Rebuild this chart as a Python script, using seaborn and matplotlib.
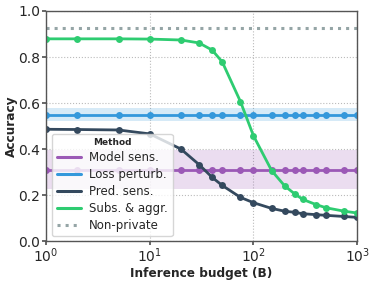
import numpy as np
import pandas as pd
import seaborn as sns
import matplotlib.pyplot as plt
from matplotlib.lines import Line2D

budget = [1, 2, 5, 10, 20, 30, 40, 50, 75, 100, 150, 200, 250, 300, 400, 500, 750, 1000]

model_sens = [0.31] * len(budget)
model_sens_lo, model_sens_hi = 0.225, 0.395
loss_perturb = [0.55] * len(budget)
loss_perturb_lo, loss_perturb_hi = 0.521, 0.578
pred_sens = [0.486, 0.485, 0.483, 0.466, 0.400, 0.332, 0.277, 0.242, 0.190, 0.167,
             0.142, 0.130, 0.125, 0.119, 0.115, 0.112, 0.107, 0.103]
subs_aggr = [0.879, 0.879, 0.879, 0.878, 0.874, 0.861, 0.830, 0.779, 0.606, 0.458,
             0.306, 0.240, 0.205, 0.181, 0.159, 0.145, 0.130, 0.122]
non_private = 0.925

methods = ["Model sens.", "Loss perturb.", "Pred. sens.", "Subs. & aggr."]
colors = ["#9b59b6", "#3498db", "#34495e", "#2ecc71"]
np_color = "#95a5a6"

rows = []
for m, vals in zip(methods, [model_sens, loss_perturb, pred_sens, subs_aggr]):
    for b, v in zip(budget, vals):
        rows.append({"budget": b, "acc": v, "Method": m})
df = pd.DataFrame(rows)

sns.set_theme(style="whitegrid")
plt.rcParams['font.family'] = ['DejaVu Sans']

fig = plt.figure(figsize=(3.74, 2.82), dpi=100)
ax = fig.add_axes([0.123, 0.145, 0.832, 0.816])

# shaded spread for the two flat methods
ax.fill_between([1, 1000], model_sens_lo, model_sens_hi, color=colors[0], alpha=0.2, lw=0)
ax.fill_between([1, 1000], loss_perturb_lo, loss_perturb_hi, color=colors[1], alpha=0.2, lw=0)

sns.lineplot(data=df, x="budget", y="acc", hue="Method", palette=colors,
             marker="o", markersize=5, markeredgewidth=0, linewidth=2,
             legend=False, ax=ax)
ax.axhline(non_private, color=np_color, ls=":", lw=2.2)

ax.set_xscale("log")
ax.set_xlim(1, 1000)
ax.set_ylim(0, 1.0)
ax.set_yticks([0, 0.2, 0.4, 0.6, 0.8, 1.0])
ax.grid(True, which="major", ls=":", color="#bbbbbb", lw=0.8)
ax.grid(False, which="minor")
for s in ax.spines.values():
    s.set_color("#555555")
    s.set_linewidth(1)
ax.tick_params(axis="both", which="major", labelsize=10, pad=1, length=3,
               color="#555555", bottom=True, left=True)
ax.tick_params(axis="x", which="minor", length=0)
ax.set_xlabel("Inference budget (B)", fontsize=8.7, fontweight="bold", labelpad=1)
ax.set_ylabel("Accuracy", fontsize=8.7, fontweight="bold", labelpad=0.5)

handles = [Line2D([], [], color=c, lw=2.2) for c in colors]
handles.append(Line2D([], [], color=np_color, lw=2.2, ls=":"))
leg = ax.legend(handles, methods + ["Non-private"], title="Method",
                loc="lower left", bbox_to_anchor=(0.015, 0.015), fontsize=8.5,
                title_fontproperties={"weight": "bold", "size": 6.5},
                handlelength=2.1, handletextpad=0.65, labelspacing=0.33,
                borderpad=0.4, borderaxespad=0.1, frameon=True, framealpha=0.8)

fig.savefig("out.png", dpi=100)
